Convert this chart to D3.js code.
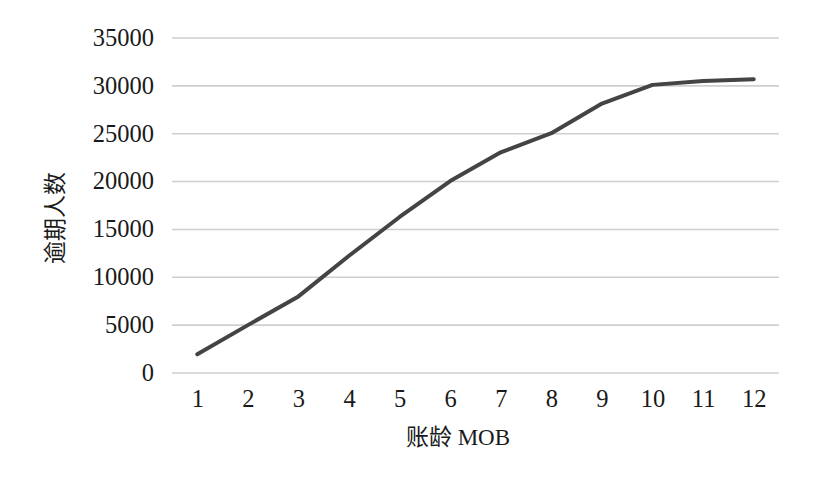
<!DOCTYPE html>
<html>
<head>
<meta charset="utf-8">
<script src="https://cdn.jsdelivr.net/npm/d3@7/dist/d3.min.js"></script>
<style>
  html, body { margin: 0; padding: 0; background: #fff; }
  svg { display: block; }
  text { font-family: "Liberation Serif", "Noto Sans CJK SC", serif; fill: #1a1a1a; }
</style>
</head>
<body>
<svg id="chart" width="830" height="483"></svg>
<script>
const categories = ["1","2","3","4","5","6","7","8","9","10","11","12"];
const overdueCounts = [1900, 4950, 7950, 12200, 16250, 20000, 23000, 25000, 28100, 30050, 30450, 30650];
const yTicks = [0, 5000, 10000, 15000, 20000, 25000, 30000, 35000];
const xTitle = "账龄 MOB";
const yTitle = "逾期人数";

(function () {
const svg = d3.select("#chart");
const mLeft = 172, mRight = 779, mTop = 37.5, mBottom = 372.5;

const x = d3.scalePoint().domain(categories).range([mLeft, mRight]).padding(0.5);
const y = d3.scaleLinear().domain([0, 35000]).range([mBottom, mTop]);

// gridlines + y labels
const yAxis = d3.axisLeft(y).tickValues(yTicks).tickSize(-(mRight - mLeft)).tickFormat(d => d).tickPadding(18);
const gy = svg.append("g").attr("transform", `translate(${mLeft},0)`).call(yAxis);
gy.select(".domain").remove();
gy.selectAll(".tick line").attr("stroke", "#cfcfcf").attr("stroke-width", 1.6);
gy.selectAll(".tick text").attr("font-size", 24.5).attr("fill", "#1a1a1a")
  .style("font-family", '"Liberation Serif", serif');

// x axis labels
const xAxis = d3.axisBottom(x).tickSize(0).tickPadding(17);
const gx = svg.append("g").attr("transform", `translate(0,${mBottom})`).call(xAxis);
gx.select(".domain").remove();
gx.selectAll(".tick text").attr("font-size", 24.5).attr("fill", "#1a1a1a")
  .style("font-family", '"Liberation Serif", serif');

// line
const line = d3.line().x((d, i) => x(categories[i])).y(d => y(d));
svg.append("path").datum(overdueCounts)
  .attr("d", line)
  .attr("fill", "none")
  .attr("stroke", "#444")
  .attr("stroke-width", 4)
  .attr("stroke-linejoin", "round")
  .attr("stroke-linecap", "round");

// axis titles
svg.append("text")
  .attr("x", 458).attr("y", 445)
  .attr("text-anchor", "middle")
  .attr("font-size", 23)
  .text(xTitle);

svg.append("text")
  .attr("transform", "translate(63,218) rotate(-90)")
  .attr("text-anchor", "middle")
  .attr("font-size", 23)
  .text(yTitle);
})();
</script>
</body>
</html>
